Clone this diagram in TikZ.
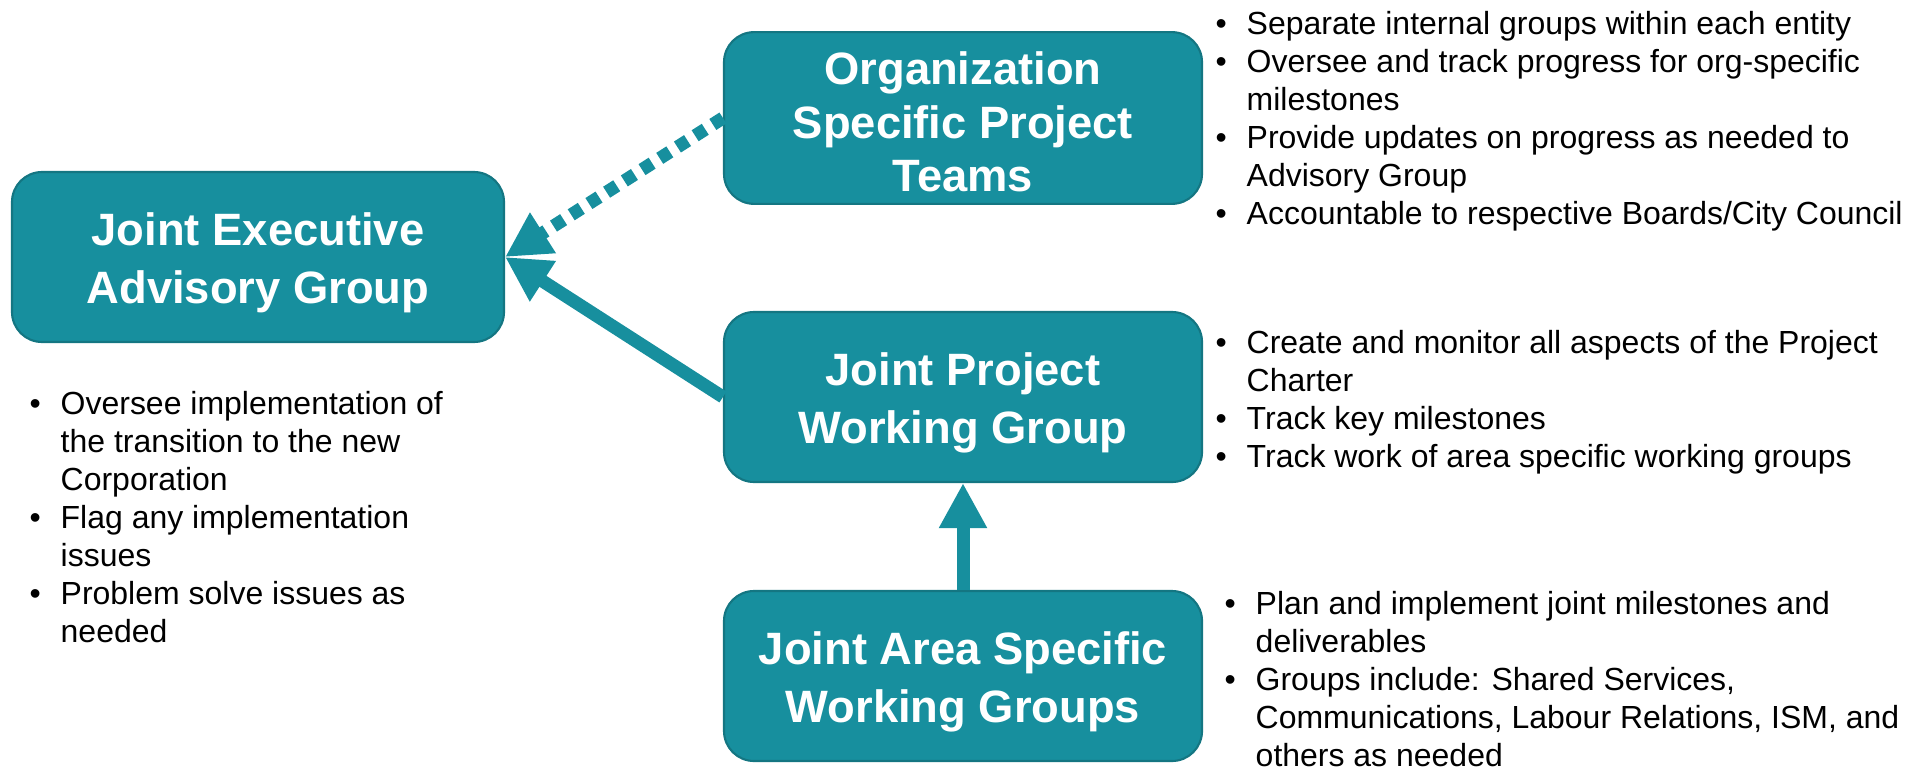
\documentclass[tikz,border=0pt]{standalone}
\usepackage{fontspec}
\setmainfont{Liberation Sans}
\usetikzlibrary{arrows.meta}
\definecolor{tealfill}{RGB}{23,143,158}
\definecolor{tealline}{RGB}{20,118,130}
\tikzset{>={Triangle[length=.45cm, width=.45cm]}}
\tikzset{
    box/.style={draw=tealline, line width=.6pt, fill=tealfill, rounded corners=.3cm,
        minimum width=4.78cm, minimum height=1.7cm, align=center, text=white,
        font=\fontsize{12.9}{16.5}\selectfont\bfseries},
    notes/.style={anchor=north west, align=left, inner sep=0pt,
        font=\fontsize{9.1}{10.8}\selectfont},
    link/.style={->, tealfill, line width=.13cm}
}
% taller first line pushes the box text a little down
\newcommand{\lowstrut}[1][.45cm]{\rule{0pt}{#1}}
\newcommand{\bitem}{\makebox[.31cm][l]{\textbullet}}
\newcommand{\bcont}{\hspace*{.31cm}}

\begin{document}
\begin{tikzpicture}
    \useasboundingbox(0, 0)rectangle(19.23, -7.68);
    % groups
    \node[box, minimum width=4.92cm](jeag)at(2.58, -2.57){\lowstrut Joint Executive\\Advisory Group};
    \node[box, font=\fontsize{12.9}{15.2}\selectfont\bfseries](ospt)at(9.63, -1.18){\lowstrut[.41cm]Organization\\Specific Project\\Teams};
    \node[box](jpwg)at(9.63, -3.97){\lowstrut Joint Project\\Working Group};
    \node[box](jaswg)at(9.63, -6.76){\lowstrut Joint Area Specific\\Working Groups};
    % reporting lines
    \draw[link, dash pattern=on .12cm off .09cm](ospt.west)--(jeag.east);
    \draw[link](jpwg.west)--(jeag.east);
    \draw[link](jaswg.north)--(jpwg.south);
    % duties
    \node[notes](osptnotes)at(12.15, -.11){\bitem Separate internal groups within each entity\\
        \bitem Oversee and track progress for org-specific\\\bcont milestones\\
        \bitem Provide updates on progress as needed to\\\bcont Advisory Group\\
        \bitem Accountable to respective Boards/City Council};
    \node[notes](jpwgnotes)at(12.15, -3.30){\bitem Create and monitor all aspects of the Project\\\bcont Charter\\
        \bitem Track key milestones\\
        \bitem Track work of area specific working groups};
    \node[notes](jaswgnotes)at(12.24, -5.91){\bitem Plan and implement joint milestones and\\\bcont deliverables\\
        \bitem Groups include: Shared Services,\\\bcont Communications, Labour Relations, ISM, and\\\bcont others as needed};
    \node[notes](jeagnotes)at(.29, -3.91){\bitem Oversee implementation of\\\bcont the transition to the new\\\bcont Corporation\\
        \bitem Flag any implementation\\\bcont issues\\
        \bitem Problem solve issues as\\\bcont needed};
\end{tikzpicture}
\end{document}
